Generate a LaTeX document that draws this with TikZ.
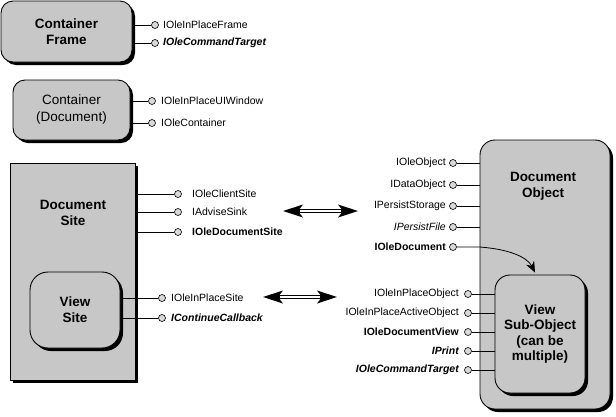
\documentclass[tikz,border=0pt]{standalone}
\usepackage{fontspec}
\setmainfont{Liberation Sans}
\usetikzlibrary{shadows,arrows.meta,calc}
\begin{document}
\begin{tikzpicture}[x=1pt,y=-1pt,
  box/.style={draw, line width=0.9pt, fill=black!22,
    general shadow={fill=black, shadow xshift=3pt, shadow yshift=-3pt}},
  rbox/.style={box, rounded corners=12pt},
  title/.style={font=\fontsize{13.5}{16}\selectfont\bfseries, align=center},
  ntitle/.style={font=\fontsize{13.5}{17}\selectfont, align=center},
  lab/.style={font=\fontsize{10.5}{12}\selectfont, inner sep=0pt},
  port/.style={circle, draw, line width=0.6pt, fill=black!15, minimum size=7pt, inner sep=0pt},
  wire/.style={line width=0.8pt},
  bigtip/.tip={Stealth[length=20pt,width=13pt,inset=5pt,line width=0pt]}]

\useasboundingbox (0,0) rectangle (616,416);

% Container Frame
\node[rbox, minimum width=131pt, minimum height=61pt, title] (cf) at (66.5,31.5) {Container\\Frame};
\node[port] (cfp1) at (155,25) {};
\node[port] (cfp2) at (155,43) {};
\node[lab, anchor=west] (cfl1) at (163,25) {IOleInPlaceFrame};
\node[lab, anchor=west] (cfl2) at (163,43) {\bfseries\itshape IOleCommandTarget};
\draw[wire] (cf.east |- cfp1) -- (cfp1);
\draw[wire] (cf.east |- cfp2) -- (cfp2);

% Container (Document)
\node[rbox, minimum width=117pt, minimum height=60pt, ntitle] (cd) at (71.5,110) {Container\\(Document)};
\node[port] (cdp1) at (152,101) {};
\node[port] (cdp2) at (152,123) {};
\node[lab, anchor=west] (cdl1) at (161,101) {IOleInPlaceUIWindow};
\node[lab, anchor=west] (cdl2) at (161,123) {IOleContainer};
\draw[wire] (cd.east |- cdp1) -- (cdp1);
\draw[wire] (cd.east |- cdp2) -- (cdp2);

% Document Site
\node[box, minimum width=125pt, minimum height=217pt] (ds) at (72.5,271.5) {};
\node[title] (dst) at (73,213) {Document\\Site};
\node[port] (dsp1) at (178,194) {};
\node[port] (dsp2) at (178,212) {};
\node[port] (dsp3) at (178,232) {};
\node[lab, anchor=west] (dsl1) at (192,194) {IOleClientSite};
\node[lab, anchor=west] (dsl2) at (192,212) {IAdviseSink};
\node[lab, anchor=west] (dsl3) at (192,232) {\bfseries IOleDocumentSite};
\draw[wire] (ds.east |- dsp1) -- (dsp1);
\draw[wire] (ds.east |- dsp2) -- (dsp2);
\draw[wire] (ds.east |- dsp3) -- (dsp3);

% View Site
\node[box, rounded corners=18pt, minimum width=90pt, minimum height=76pt, title] (vs) at (75,310) {View\\Site};
\node[port] (vsp1) at (162,298) {};
\node[port] (vsp2) at (162,318) {};
\node[lab, anchor=west] (vsl1) at (171,298) {IOleInPlaceSite};
\node[lab, anchor=west] (vsl2) at (171,318) {\bfseries\itshape IContinueCallback};
\draw[wire] (vs.east |- vsp1) -- (vsp1);
\draw[wire] (vs.east |- vsp2) -- (vsp2);

% Document Object
\node[box, rounded corners=15pt, minimum width=130pt, minimum height=269pt] (do) at (545,274.5) {};
\node[title] (dot) at (543,186) {Document\\Object};
\foreach \n/\y/\t in {1/163/{IOleObject}, 2/185/{IDataObject}, 3/206/{IPersistStorage},
    4/227/{\itshape IPersistFile}, 5/247/{\bfseries IOleDocument}} {
  \node[port] (dop\n) at (453,\y) {};
  \node[lab, anchor=east] (dol\n) at (446,\y) {\t};
}
\foreach \n in {1,2,3,4} { \draw[wire] (dop\n) -- (do.west |- dop\n); }

% View Sub-Object
\node[box, rounded corners=15pt, minimum width=90pt, minimum height=118pt,
  font=\fontsize{13.5}{15.5}\selectfont\bfseries, align=center] (vso) at (540,334)
  {View\\Sub-Object\\(can be\\multiple)};
\foreach \n/\y/\t in {1/294/{IOleInPlaceObject}, 2/313/{IOleInPlaceActiveObject},
    3/332/{\bfseries IOleDocumentView}, 4/351/{\bfseries\itshape IPrint},
    5/370/{\bfseries\itshape IOleCommandTarget}} {
  \node[port] (vop\n) at (468,\y) {};
  \node[lab, anchor=east] (vol\n) at (459,\y) {\t};
  \draw[wire] (vop\n) -- (vso.west |- vop\n);
}

% curved arrow IOleDocument -> View Sub-Object
\coordinate (cv) at ($(vso.north)+(-5,-2)$);
\draw[wire, -{Stealth[length=11pt,width=9pt]}] (dop5) -- (do.west |- dop5)
  .. controls +(28,2) and +(-8,-16) .. (cv);

% double arrows
\coordinate (a1) at (283,211);
\coordinate (a2) at (358,211);
\coordinate (b1) at (263,297);
\coordinate (b2) at (337,297);
\draw[line width=3.6pt, bigtip-bigtip] (a1) -- (a2);
\draw[white, line width=1.4pt, shorten <=17pt, shorten >=17pt] (a1) -- (a2);
\draw[line width=3.6pt, bigtip-bigtip] (b1) -- (b2);
\draw[white, line width=1.4pt, shorten <=17pt, shorten >=17pt] (b1) -- (b2);
\end{tikzpicture}
\end{document}
